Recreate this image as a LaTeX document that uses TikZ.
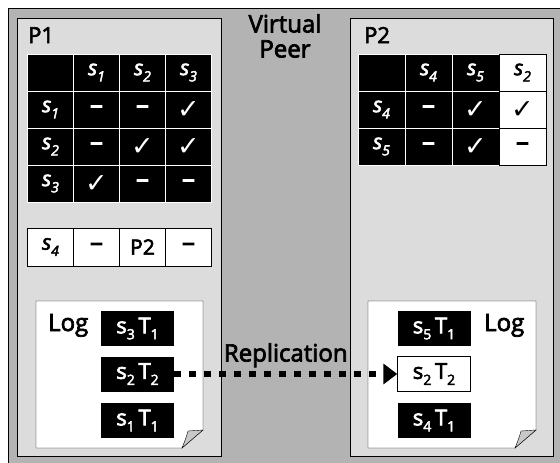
\documentclass[tikz,border=0pt]{standalone}
\usepackage{amssymb}
\usepackage{amsmath}
\usepackage{xcolor}
\usepackage{fontspec}
\setmainfont{Open Sans}[FakeBold=3]
\newfontfamily\symfont{DejaVu Sans}
\usepackage{tikz}
\usetikzlibrary{matrix,arrows.meta}
\definecolor{peergray}{RGB}{179,179,179}
\definecolor{panelgray}{RGB}{220,220,220}
\definecolor{foldgray}{RGB}{200,200,200}
\newcommand\sname[1]{\textit{s}\raisebox{-0.55ex}{\fontsize{14}{14}\selectfont\itshape #1}}
\newcommand\logent[2]{s\raisebox{-0.5ex}{\fontsize{14}{14}\selectfont #1}\,T\raisebox{-0.5ex}{\fontsize{14}{14}\selectfont #2}}
\newcommand\yes{{\symfont\bfseries\fontsize{27}{27}\selectfont ✓}}
\newcommand\no{{\fontsize{26}{26}\selectfont –}}
\tikzset{
	peercell/.style={fill=black, draw=white, text=white, anchor=center, minimum width=46pt, minimum height=37pt, inner sep=0pt},
	whitecell/.style={fill=white, draw=black, text=black},
	logbox/.style={fill=black, text=white, minimum width=73pt, minimum height=35pt, inner sep=0pt, font=\fontsize{22}{22}\selectfont},
	label/.style={text=black, inner sep=0pt},
	repl/.style={line width=6pt, dash pattern=on 6.5pt off 8.5pt, -{Triangle[length=14pt,width=20pt]}}
}

\begin{document}
\begin{tikzpicture}[x=1pt, y=-1pt, font=\fontsize{21}{22}\selectfont]
					\clip (0,0) rectangle (560,463);
					\draw[fill=peergray] (8,8) rectangle (566,470);
					\draw[fill=panelgray] (17,18) rectangle (221,456);
					\draw[fill=panelgray] (350,18) rectangle (553,456);
					\node[label, anchor=base west, font=\fontsize{22}{22}\selectfont] (p1) at (28,43) {P1};
					\node[label, anchor=base west, font=\fontsize{22}{22}\selectfont] (p2) at (364,43) {P2};
					\node[label, anchor=north, align=center, font=\fontsize{24}{25}\selectfont] (vp) at (285,14) {Virtual\\Peer};
					\matrix(cmp1) at (119.5,128) [matrix of nodes, nodes in empty cells, nodes={peercell}, column sep=-\pgflinewidth, row sep=-\pgflinewidth]{
						&\sname{1}	&\sname{2}	&\sname{3}	\\
						\sname{1}	&\no	&\no	&\yes	\\
						\sname{2}	&\no	&\yes	&\yes	\\
						\sname{3}	&\yes	&\no	&\no	\\
					};
					\matrix(rep1) at (119.5,247) [matrix of nodes, nodes={peercell, whitecell, minimum height=38pt}, column sep=-\pgflinewidth]{
						\sname{4}	&\no	&P2	&\no	\\
					};
					\matrix(cmp2) at (452,109.5) [matrix of nodes, nodes in empty cells, nodes={peercell, minimum width=47pt}, column sep=-\pgflinewidth, row sep=-\pgflinewidth]{
						&\sname{4}	&\sname{5}	&|[whitecell]|\sname{2}	\\
						\sname{4}	&\no	&\yes	&|[whitecell]|\yes	\\
						\sname{5}	&\no	&\yes	&|[whitecell]|\no	\\
					};
					\draw[fill=white] (36,301) -- (203,301) -- (203,430) -- (182,448) -- (36,448) -- cycle;
					\draw[fill=foldgray] (203,430) -- (188,431) .. controls (186,438) .. (182,448) -- cycle;
					\draw[fill=white] (368,301) -- (536,301) -- (536,430) -- (515,448) -- (368,448) -- cycle;
					\draw[fill=foldgray] (536,430) -- (521,431) .. controls (519,438) .. (515,448) -- cycle;
					\node[label, anchor=base west, font=\fontsize{24}{24}\selectfont] (log1) at (48,331) {Log};
					\node[label, anchor=base west, font=\fontsize{24}{24}\selectfont] (log2) at (484,331) {Log};
					\node[logbox] (l1) at (137.5,328.5) {\logent{3}{1}};
					\node[logbox] (l2) at (137.5,374) {\logent{2}{2}};
					\node[logbox] (l3) at (137.5,420.5) {\logent{1}{1}};
					\node[logbox] (r1) at (434,328.5) {\logent{5}{1}};
					\node[logbox, whitecell] (r2) at (434,374) {\logent{2}{2}};
					\node[logbox] (r3) at (434,420.5) {\logent{4}{1}};
					\draw[repl] (l2.east) -- (r2.west) node[label, midway, anchor=base, yshift=12.5pt, font=\fontsize{24}{24}\selectfont] (rl) {Replication};
				\end{tikzpicture}
\end{document}
